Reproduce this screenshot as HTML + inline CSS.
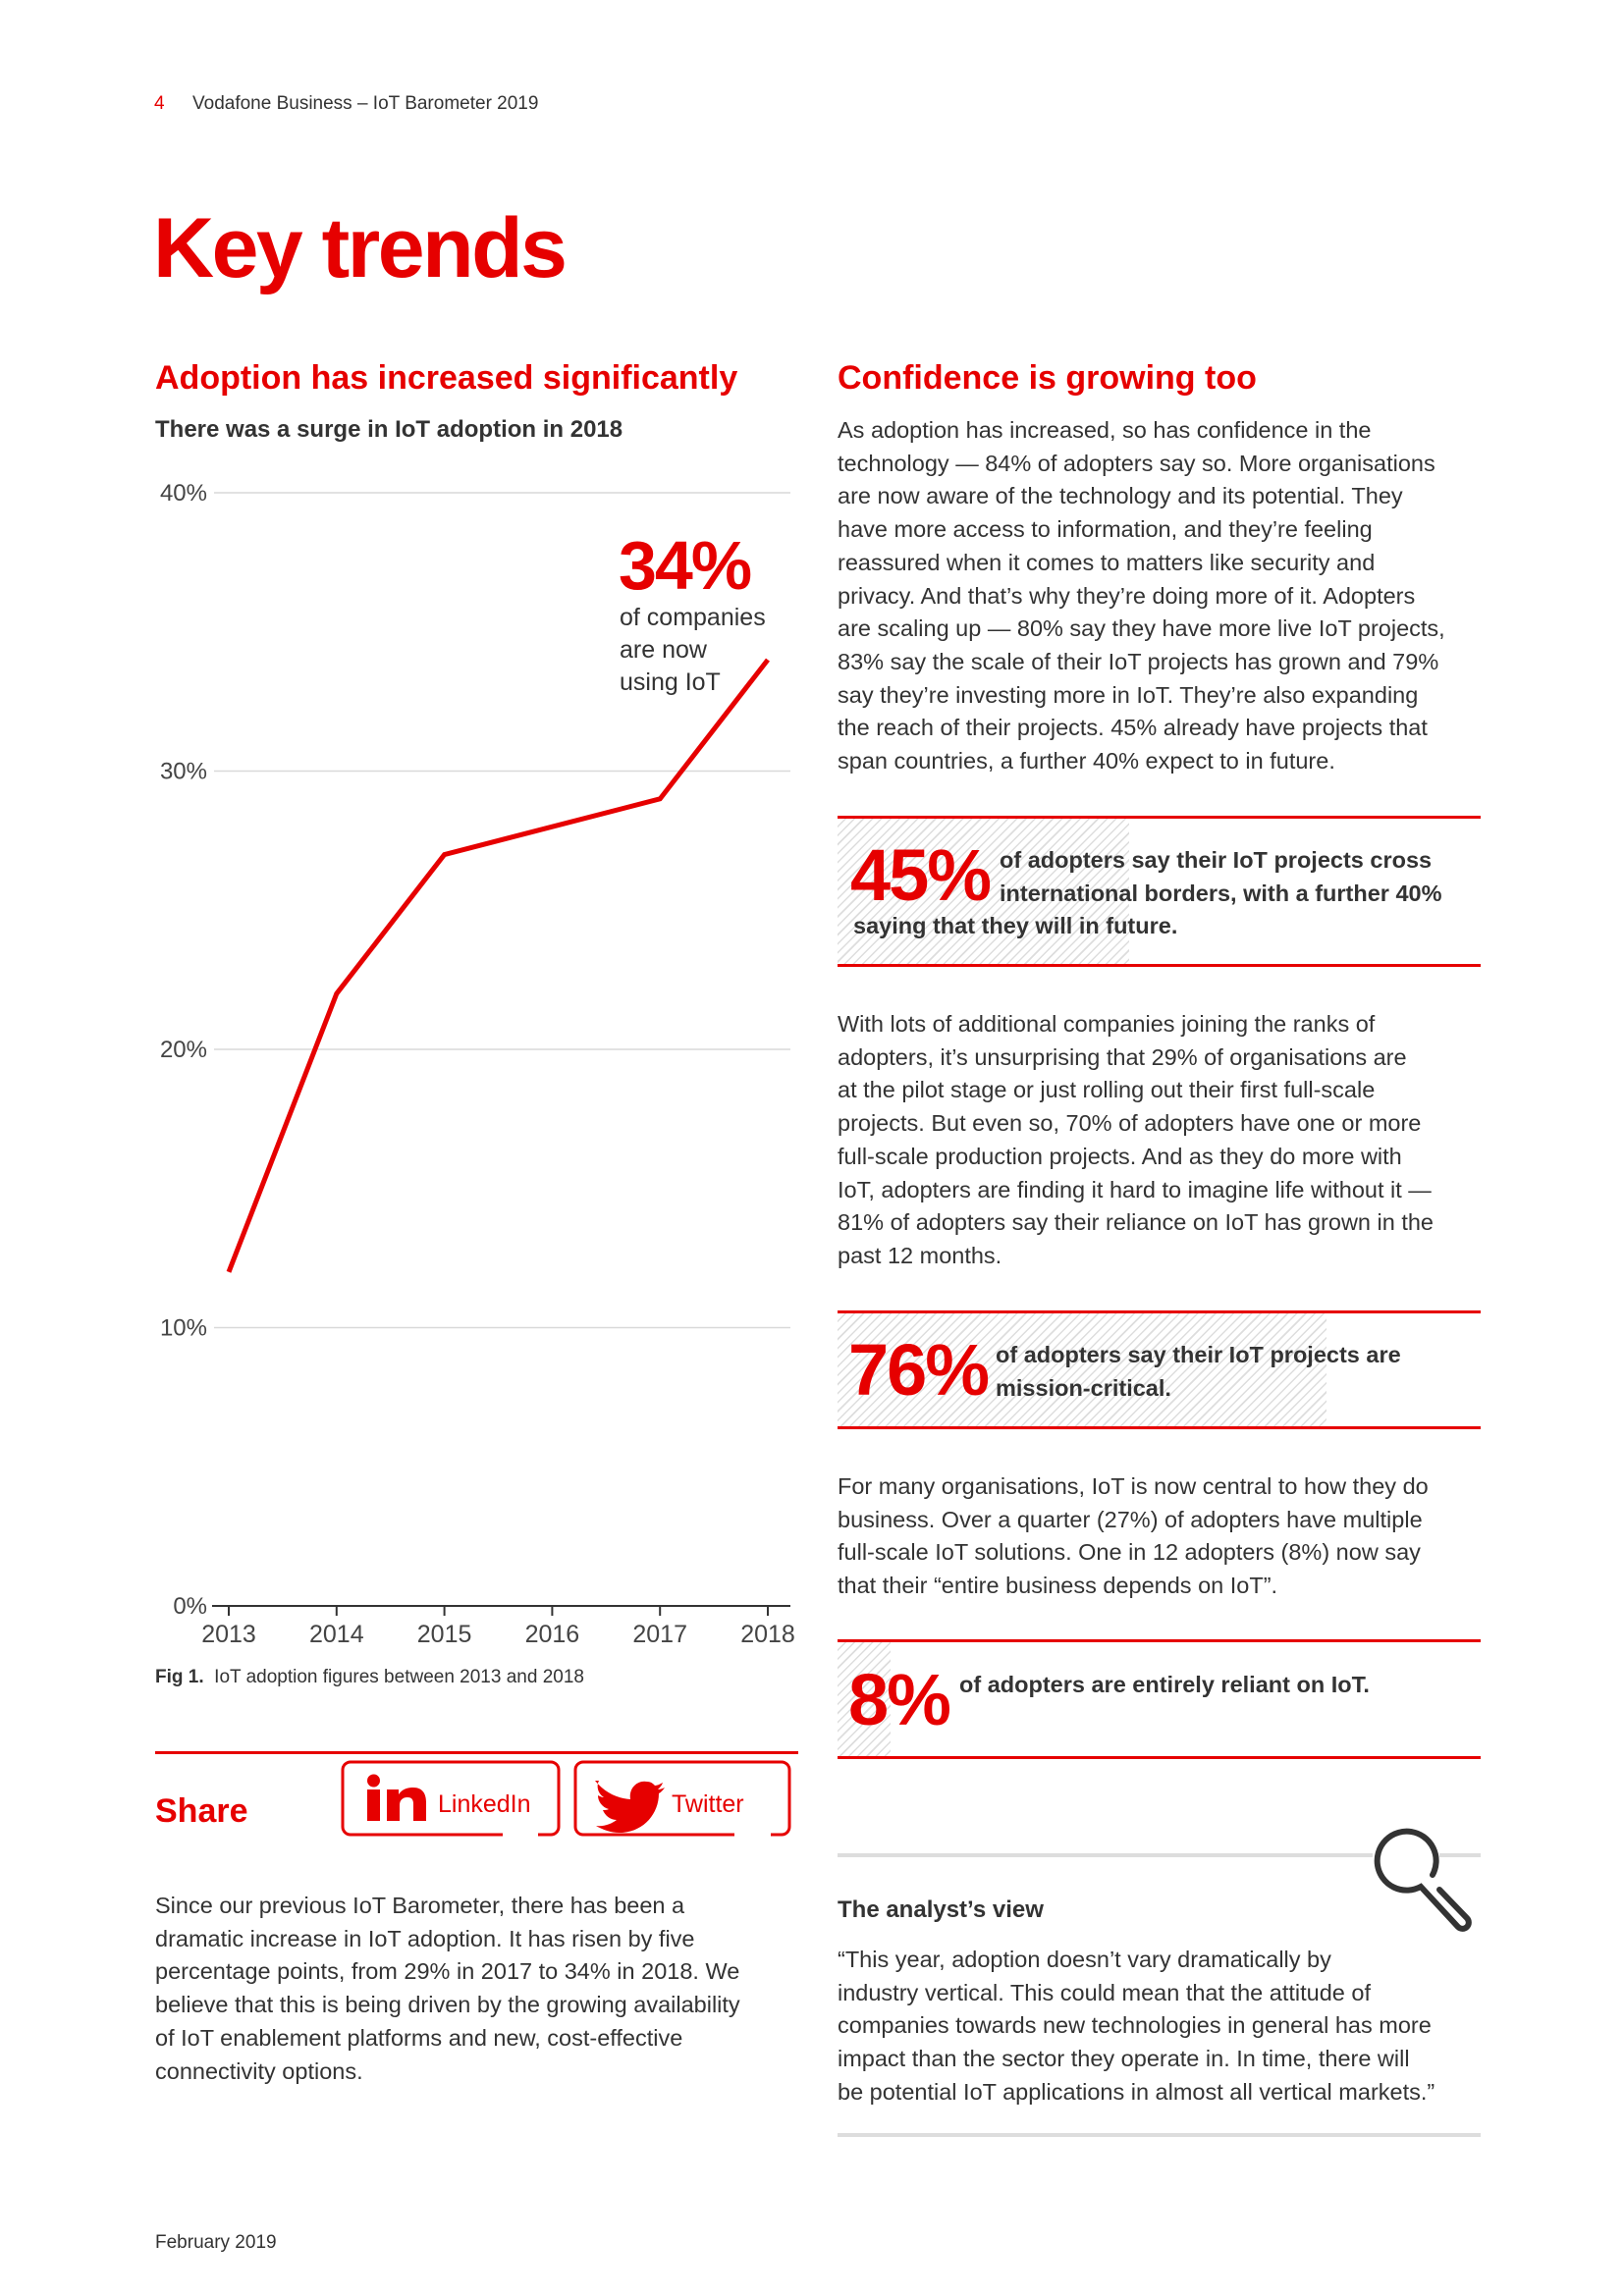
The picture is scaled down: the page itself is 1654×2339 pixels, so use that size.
<!DOCTYPE html>
<html><head><meta charset="utf-8">
<style>
html,body{margin:0;padding:0;background:#fff}
body{width:1654px;height:2339px;position:relative;overflow:hidden;font-family:"Liberation Sans",sans-serif;color:#333}
.a{position:absolute;white-space:nowrap}
.body{font-size:23.5px;line-height:33.7px;color:#333}
.red{color:#e60000}
.rule{position:absolute;height:3px;background:#e60000}
.hatch{position:absolute;background:repeating-linear-gradient(135deg,#fff 0 5px,#ddd 5px 6.5px)}
.big{font-weight:bold;color:#e60000;font-size:74px;letter-spacing:-2px}
.cb{font-weight:bold;font-size:23.5px;line-height:33.7px;color:#333}
</style></head><body>
<div class="a" style="left:157px;top:95px;font-size:19px;color:#e60000">4</div>
<div class="a" style="left:196px;top:95px;font-size:19px;color:#333">Vodafone Business – IoT Barometer 2019</div>
<div class="a" style="left:156px;top:204px;font-size:86px;font-weight:bold;color:#e60000;letter-spacing:-2.5px">Key trends</div>

<div class="a" style="left:158px;top:366px;font-size:34px;font-weight:bold;color:#e60000">Adoption has increased significantly</div>
<div class="a" style="left:158px;top:424px;font-size:24px;font-weight:bold;color:#333">There was a surge in IoT adoption in 2018</div>

<svg id="chart" style="position:absolute;left:0;top:0" width="1654" height="1720"></svg>
<div class="a" style="left:630px;top:536px;font-size:70px;font-weight:bold;color:#e60000;letter-spacing:-2px">34%</div>
<div class="a" style="left:631px;top:613px;font-size:25px;line-height:33px;color:#333">of companies<br>are now<br>using IoT</div>
<div class="a" style="left:158px;top:1698px;font-size:19px;color:#333"><b>Fig 1.</b>&nbsp; IoT adoption figures between 2013 and 2018</div>

<div class="rule" style="left:158px;top:1784px;width:655px"></div>
<div class="a" style="left:158px;top:1826px;font-size:34px;font-weight:bold;color:#e60000">Share</div>
<svg style="position:absolute;left:0;top:0" width="1654" height="1900">
 <g>
  <path d="M512 1869 H357 a8 8 0 0 1 -8 -8 V1803 a8 8 0 0 1 8 -8 H561 a8 8 0 0 1 8 8 V1861 a8 8 0 0 1 -8 8 H548" fill="none" stroke="#e60000" stroke-width="3"/>
  <rect x="374" y="1823" width="13" height="32" fill="#e60000"/><circle cx="380.5" cy="1814" r="6.5" fill="#e60000"/>
  <path d="M394 1823 h12 v5 c4 -6 10 -7 15 -7 c9 0 13 6 13 15 v19 h-13 v-17 c0 -5 -2 -7 -6 -7 c-5 0 -8 3 -8 8 v16 h-13z" fill="#e60000"/>
  <text x="446" y="1846" font-size="25" fill="#e60000" font-family="Liberation Sans">LinkedIn</text>
 </g>
 <g>
  <path d="M748 1869 H594 a8 8 0 0 1 -8 -8 V1803 a8 8 0 0 1 8 -8 H796 a8 8 0 0 1 8 8 V1861 a8 8 0 0 1 -8 8 H785" fill="none" stroke="#e60000" stroke-width="3"/>
  <path d="M606 1814 c10 12 22 18 36 19 c-2 -12 8 -20 17 -18 c4 0 6 2 8 4 c3 0 6 -2 8 -3 c-1 3 -3 5 -5 7 c2 0 5 -1 7 -2 c-2 3 -4 5 -6 6 c0 22 -17 40 -40 40 c-9 0 -17 -3 -24 -7 c8 1 16 -2 21 -6 c-7 0 -12 -5 -14 -10 c2 0 4 0 6 -1 c-7 -2 -11 -8 -11 -14 c2 1 4 2 6 2 c-6 -4 -8 -11 -5 -17z" fill="#e60000"/>
  <text x="684" y="1846" font-size="25" fill="#e60000" font-family="Liberation Sans">Twitter</text>
 </g>
</svg>
<div class="a body" style="left:158px;top:1925px">Since our previous IoT Barometer, there has been a<br>dramatic increase in IoT adoption. It has risen by five<br>percentage points, from 29% in 2017 to 34% in 2018. We<br>believe that this is being driven by the growing availability<br>of IoT enablement platforms and new, cost-effective<br>connectivity options.</div>
<div class="a" style="left:158px;top:2274px;font-size:19px;color:#333">February 2019</div>

<div class="a" style="left:853px;top:366px;font-size:34px;font-weight:bold;color:#e60000">Confidence is growing too</div>
<div class="a body" style="left:853px;top:422px">As adoption has increased, so has confidence in the<br>technology — 84% of adopters say so. More organisations<br>are now aware of the technology and its potential. They<br>have more access to information, and they’re feeling<br>reassured when it comes to matters like security and<br>privacy. And that’s why they’re doing more of it. Adopters<br>are scaling up — 80% say they have more live IoT projects,<br>83% say the scale of their IoT projects has grown and 79%<br>say they’re investing more in IoT. They’re also expanding<br>the reach of their projects. 45% already have projects that<br>span countries, a further 40% expect to in future.</div>

<div class="hatch" style="left:853px;top:834px;width:297px;height:150px"></div>
<div class="rule" style="left:853px;top:831px;width:655px"></div>
<div class="rule" style="left:853px;top:982px;width:655px"></div>
<div class="a big" style="left:866px;top:849px">45%</div>
<div class="a cb" style="left:1018px;top:860px">of adopters say their IoT projects cross<br>international borders, with a further 40%</div>
<div class="a cb" style="left:869px;top:927px">saying that they will in future.</div>

<div class="a body" style="left:853px;top:1027px">With lots of additional companies joining the ranks of<br>adopters, it’s unsurprising that 29% of organisations are<br>at the pilot stage or just rolling out their first full-scale<br>projects. But even so, 70% of adopters have one or more<br>full-scale production projects. And as they do more with<br>IoT, adopters are finding it hard to imagine life without it —<br>81% of adopters say their reliance on IoT has grown in the<br>past 12 months.</div>

<div class="hatch" style="left:853px;top:1338px;width:498px;height:115px"></div>
<div class="rule" style="left:853px;top:1335px;width:655px"></div>
<div class="rule" style="left:853px;top:1453px;width:655px"></div>
<div class="a big" style="left:864px;top:1353px">76%</div>
<div class="a cb" style="left:1014px;top:1364px">of adopters say their IoT projects are<br>mission-critical.</div>

<div class="a body" style="left:853px;top:1498px">For many organisations, IoT is now central to how they do<br>business. Over a quarter (27%) of adopters have multiple<br>full-scale IoT solutions. One in 12 adopters (8%) now say<br>that their “entire business depends on IoT”.</div>

<div class="hatch" style="left:853px;top:1673px;width:54px;height:116px"></div>
<div class="rule" style="left:853px;top:1670px;width:655px"></div>
<div class="rule" style="left:853px;top:1789px;width:655px"></div>
<div class="a big" style="left:864px;top:1689px">8%</div>
<div class="a cb" style="left:977px;top:1700px">of adopters are entirely reliant on IoT.</div>

<div style="position:absolute;left:853px;top:1888px;width:545px;height:4px;background:#ddd"></div>
<div style="position:absolute;left:1466px;top:1888px;width:42px;height:4px;background:#ddd"></div>
<svg style="position:absolute;left:0;top:0" width="1654" height="2000">
 <path d="M1459 1910 A30 30 0 1 0 1447 1922 L1485 1963 a6 6 0 0 0 9 -9 L1466 1925" fill="none" stroke="#333" stroke-width="6" stroke-linecap="round"/>
</svg>
<div class="a" style="left:853px;top:1932px;font-size:24px;font-weight:bold;color:#333">The analyst’s view</div>
<div class="a body" style="left:853px;top:1980px">“This year, adoption doesn’t vary dramatically by<br>industry vertical. This could mean that the attitude of<br>companies towards new technologies in general has more<br>impact than the sector they operate in. In time, there will<br>be potential IoT applications in almost all vertical markets.”</div>
<div style="position:absolute;left:853px;top:2173px;width:655px;height:4px;background:#ddd"></div>

<script>
const years = ['2013','2014','2015','2016','2017','2018'];
const adoption = [12, 22, 27, 28, 29, 34];
const yTicks = [0, 10, 20, 30, 40];
const yTickLabels = ['0%','10%','20%','30%','40%'];
const svg = document.getElementById('chart');
const NS = 'http://www.w3.org/2000/svg';
const X0 = 233, X1 = 782, Y0 = 1636, Y1 = 502;
function xs(i){ return X0 + (X1 - X0) * i / (years.length - 1); }
function ys(v){ return Y0 - (Y0 - Y1) * v / 40; }
function mk(tag, attrs){ const e = document.createElementNS(NS, tag); for (const k in attrs) e.setAttribute(k, attrs[k]); svg.appendChild(e); return e; }
yTicks.forEach((t, i) => {
  if (t > 0) {
    const g = mk('line', {x1: 218, x2: 805, y1: ys(t), y2: ys(t), stroke: '#d9d9d9', 'stroke-width': 1.5});
    
    
  }
  const lb = mk('text', {x: 211, y: ys(t) + 8, 'text-anchor': 'end', 'font-size': 24, fill: '#444', 'font-family': 'Liberation Sans'});
  lb.textContent = yTickLabels[i];
  
  
});
const ax = mk('line', {x1: 216, x2: 805, y1: Y0, y2: Y0, stroke: '#333', 'stroke-width': 2});


years.forEach((yr, i) => {
  const tk = mk('line', {x1: xs(i), x2: xs(i), y1: Y0, y2: Y0 + 10, stroke: '#333', 'stroke-width': 2});
  
  
  const lb = mk('text', {x: xs(i), y: Y0 + 37, 'text-anchor': 'middle', 'font-size': 25, fill: '#444', 'font-family': 'Liberation Sans'});
  lb.textContent = yr;
  
  
});
const pts = adoption.map((v, i) => xs(i) + ',' + ys(v)).join(' ');
const line = mk('polyline', {points: pts, fill: 'none', stroke: '#e60000', 'stroke-width': 5, 'stroke-linejoin': 'miter'});


</script>
</body></html>
